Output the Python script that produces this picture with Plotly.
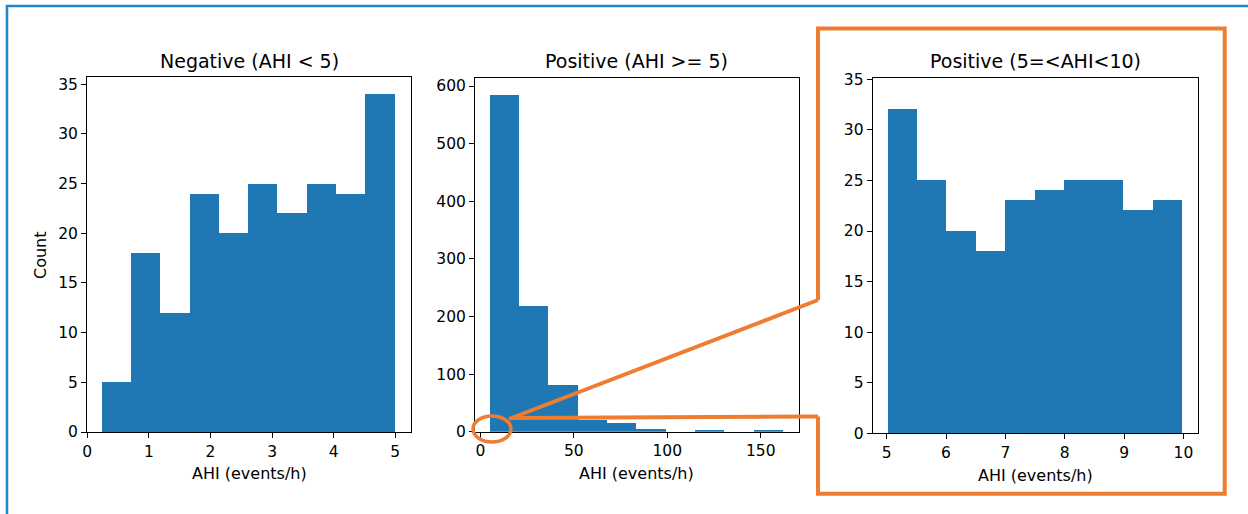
import numpy as np
import plotly.graph_objects as go

W, H = 1248, 514

# ---- data ----
neg_counts = [5, 18, 12, 24, 20, 25, 22, 25, 24, 34]
neg_range = [0.234, 4.99]
pos_counts = [585, 218, 82, 20, 15, 5, 0, 2, 0, 2]
pos_range = [5.0, 162.0]
mild_counts = [32, 25, 20, 18, 23, 24, 25, 25, 22, 23]
mild_range = [5.01, 9.97]

titles = ["Negative (AHI < 5)", "Positive (AHI >= 5)", "Positive (5=<AHI<10)"]
xlabel = "AHI (events/h)"
ylabel = "Count"
x_ticks = [[0, 1, 2, 3, 4, 5], [0, 50, 100, 150], [5, 6, 7, 8, 9, 10]]
y_ticks = [list(range(0, 36, 5)), list(range(0, 601, 100)), list(range(0, 36, 5))]

# ---- layout geometry (pixels) ----
boxes = [(87, 411, 77, 432), (475, 798.5, 77.7, 431.7), (872.7, 1197.7, 78.3, 433.3)]
x_ranges = [[-0.005, 5.255], [-2.85, 170.2], [4.764, 10.24]]
y_ranges = [[0, 35.73], [0, 614.4], [0, 35.1]]

BAR = "#1f77b4"
ORANGE = "#ED7D31"
BORDER = "#1E88C8"
FONT = "DejaVu Sans"


def px(x):
    return x / W


def py(y):
    return 1 - y / H


fig = go.Figure()
series = [(neg_counts, neg_range), (pos_counts, pos_range), (mild_counts, mild_range)]
annotations = []
for i, ((counts, rng), box) in enumerate(zip(series, boxes)):
    edges = np.linspace(rng[0], rng[1], len(counts) + 1)
    centers = (edges[:-1] + edges[1:]) / 2
    widths = np.diff(edges)
    ax = "" if i == 0 else str(i + 1)
    fig.add_trace(go.Bar(x=centers, y=counts, width=widths,
                         marker=dict(color=BAR, line=dict(width=0)),
                         xaxis="x" + ax, yaxis="y" + ax, showlegend=False,
                         hoverinfo="skip"))
    axis_common = dict(showline=True, linecolor="black", linewidth=1, mirror=True,
                       ticks="outside", ticklen=5, tickwidth=1, tickcolor="black",
                       showgrid=False, zeroline=False, automargin=False,
                       tickfont=dict(family=FONT, size=15.5, color="black"))
    x0, x1, y0, y1 = box
    fig.layout["xaxis" + ax] = dict(domain=[px(x0), px(x1)], range=x_ranges[i],
                                    tickvals=x_ticks[i], anchor="y" + ax, **axis_common)
    fig.layout["yaxis" + ax] = dict(domain=[py(y1), py(y0)], range=y_ranges[i],
                                    tickvals=y_ticks[i], anchor="x" + ax, **axis_common)
    cx = (x0 + x1) / 2
    annotations.append(dict(text=titles[i], x=px(cx), y=py(61), xref="paper", yref="paper",
                            xanchor="center", yanchor="middle", showarrow=False,
                            font=dict(family=FONT, size=19, color="black")))
    annotations.append(dict(text=xlabel, x=px(cx), y=py(473 if i < 2 else 475),
                            xref="paper", yref="paper",
                            xanchor="center", yanchor="middle", showarrow=False,
                            font=dict(family=FONT, size=16, color="black")))

annotations.append(dict(text=ylabel, x=px(40), y=py(255), xref="paper", yref="paper",
                        xanchor="center", yanchor="middle", showarrow=False, textangle=-90,
                        font=dict(family=FONT, size=16, color="black")))

shapes = []
# outer blue frame (top and left edges visible)
shapes.append(dict(type="path", xref="paper", yref="paper",
                   path=f"M {px(7)},{py(514)} L {px(7)},{py(6)} L {px(1248)},{py(6)}",
                   line=dict(color=BORDER, width=2.5)))
# orange zoom frame
frame = (f"M {px(818)},{py(300)} L {px(818)},{py(28.5)} L {px(1224.7)},{py(28.5)} "
         f"L {px(1224.7)},{py(493.7)} L {px(818)},{py(493.7)} L {px(818)},{py(416.5)}")
shapes.append(dict(type="path", xref="paper", yref="paper", path=frame,
                   line=dict(color=ORANGE, width=4)))
# connectors
shapes.append(dict(type="line", xref="paper", yref="paper",
                   x0=px(509), y0=py(419), x1=px(818), y1=py(300),
                   line=dict(color=ORANGE, width=4)))
shapes.append(dict(type="line", xref="paper", yref="paper",
                   x0=px(511), y0=py(418), x1=px(818), y1=py(416.5),
                   line=dict(color=ORANGE, width=4)))
# ellipse
shapes.append(dict(type="circle", xref="paper", yref="paper",
                   x0=px(473), x1=px(511), y0=py(442), y1=py(416),
                   line=dict(color=ORANGE, width=3.5)))

fig.update_layout(width=W, height=H, margin=dict(l=0, r=0, t=0, b=0, autoexpand=False),
                  paper_bgcolor="white", plot_bgcolor="white",
                  bargap=0, annotations=annotations, shapes=shapes,
                  font=dict(family=FONT, color="black"))

fig.write_html("out.html", config={"displayModeBar": False},
               post_script="document.body.style.margin='0';document.body.style.overflow='hidden';")
